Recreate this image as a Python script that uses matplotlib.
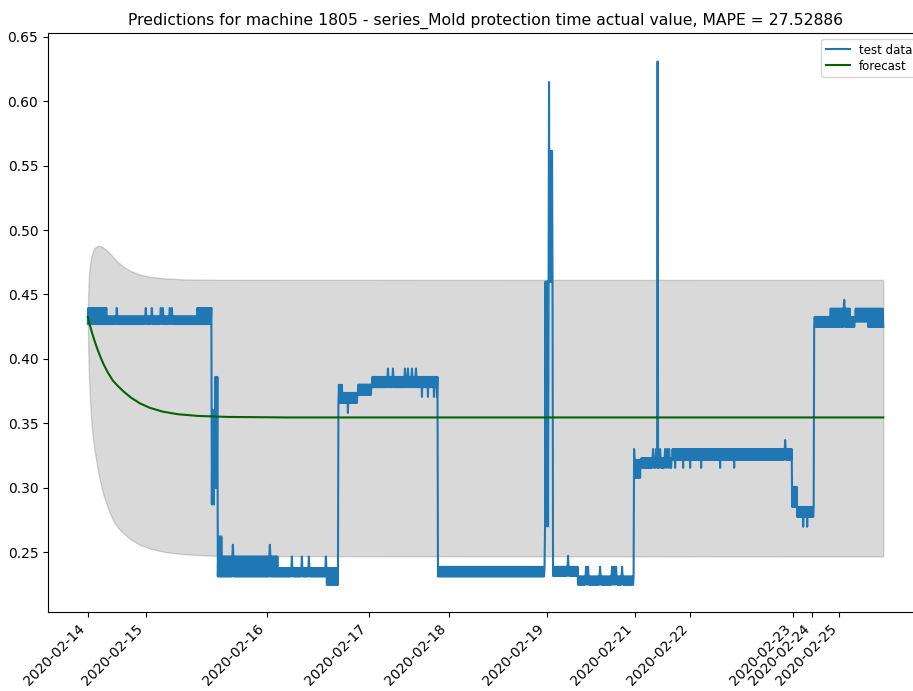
import numpy as np
import matplotlib
matplotlib.use("Agg")
import matplotlib.pyplot as plt

# x axis is the sample index of the test data; days start at these samples
day_labels = ['2020-02-14', '2020-02-15', '2020-02-16', '2020-02-17',
              '2020-02-18', '2020-02-19', '2020-02-21', '2020-02-22',
              '2020-02-23', '2020-02-24', '2020-02-25']
day_start = [0, 116, 358, 562, 722, 918, 1094, 1204, 1410, 1448, 1502]

# test data: the signal flickers between two levels inside each run
seg_edges = [0, 38, 218, 248, 254, 260, 268, 380, 476, 501, 510, 540, 568,
             658, 700, 914, 930, 980, 1092, 1106, 1168, 1408, 1418, 1452,
             1484, 1524, 1534, 1560, 1591]
seg_lo = [0.427, 0.427, 0.427, 0.287, 0.300, 0.231, 0.231, 0.231, 0.2246,
          0.3658, 0.3658, 0.372, 0.378, 0.378, 0.231, 0.270, 0.2315, 0.2246,
          0.3076, 0.3154, 0.3216, 0.285, 0.2773, 0.4248, 0.4248, 0.4248,
          0.429, 0.4248]
seg_hi = [0.4395, 0.433, 0.4395, 0.360, 0.386, 0.262, 0.2465, 0.2375,
          0.2375, 0.3798, 0.3736, 0.380, 0.386, 0.386, 0.2385, 0.460, 0.2385,
          0.231, 0.3216, 0.323, 0.330, 0.3006, 0.285, 0.4326, 0.439, 0.4326,
          0.439, 0.439]

# isolated spikes and dips
spike_idx = [58, 116, 128, 146, 150, 164, 168,
             290, 364, 408, 428, 442, 476,
             520, 600, 610, 634, 640, 648, 656, 668, 680, 692, 698,
             922, 924, 926, 928, 960,
             996, 1000, 1024, 1048, 1052, 1056, 1068,
             1092, 1130, 1136, 1139, 1144, 1154, 1158, 1162,
             1174, 1190, 1204, 1226, 1264, 1292, 1394,
             1430, 1438, 1512]
spike_val = [0.4395, 0.4395, 0.4395, 0.4395, 0.4395, 0.4395, 0.4395,
             0.2556, 0.2556, 0.2465, 0.2465, 0.2465, 0.2465,
             0.358, 0.3925, 0.3925, 0.3925, 0.3925, 0.3925, 0.3925,
             0.3705, 0.3705, 0.3705, 0.3705,
             0.615, 0.50, 0.5615, 0.5615, 0.247,
             0.2385, 0.2385, 0.2385, 0.2385, 0.2385, 0.2385, 0.2385,
             0.330, 0.330, 0.330, 0.631, 0.330, 0.330, 0.330, 0.330,
             0.3154, 0.3154, 0.3154, 0.3154, 0.3154, 0.3154, 0.337,
             0.2696, 0.2696, 0.4458]

# forecast
fc_idx = [0, 4, 8, 12, 16, 20, 26, 32, 40, 50, 60, 72, 86, 104, 124, 150,
          180, 220, 280, 400, 1590]
fc_val = [0.4326, 0.4265, 0.4210, 0.4159, 0.4112, 0.4068, 0.4008, 0.3955,
          0.3895, 0.3832, 0.3790, 0.3745, 0.3700, 0.3655, 0.3620, 0.3590,
          0.3570, 0.3557, 0.3549, 0.3545, 0.3545]

# confidence band
band_idx = [0, 1, 2, 4, 7, 10, 14, 19, 24, 30, 36, 44, 52, 60, 70, 84, 104,
            124, 154, 194, 264, 1590]
band_upper = [0.4326, 0.452, 0.463, 0.472, 0.479, 0.4835, 0.4862, 0.4876,
              0.4878, 0.4868, 0.4850, 0.4820, 0.4785, 0.4752, 0.4720,
              0.4685, 0.4655, 0.4638, 0.4625, 0.4617, 0.4614, 0.4613]
band_lower = [0.4326, 0.405, 0.390, 0.3708, 0.352, 0.3390, 0.3280, 0.3160,
              0.3060, 0.2960, 0.2890, 0.2802, 0.2735, 0.2690, 0.2650,
              0.2602, 0.2556, 0.2527, 0.2500, 0.2482, 0.2468, 0.2465]

# build test series
test = np.empty(seg_edges[-1])
for s, e, lo, hi in zip(seg_edges[:-1], seg_edges[1:], seg_lo, seg_hi):
    test[s:e] = lo
    test[s + 1:e:2] = hi
test[spike_idx] = spike_val

fig = plt.figure(figsize=(9.13, 6.91), dpi=100)
ax = fig.add_axes([48/913, 1 - 612/691, 875/913, 579/691])

ax.plot(np.arange(len(test)), test, color='tab:blue', label='test data')
ax.plot(fc_idx, fc_val, color='darkgreen', label='forecast')
ax.fill_between(band_idx, band_lower, band_upper, color='k', alpha=0.15)

ax.set_ylim(0.2034, 0.6531)
ax.set_xticks(day_start)
ax.set_xticklabels(day_labels, rotation=45, ha='right', fontsize=10)
ax.set_title('Predictions for machine 1805 - series_Mold protection time '
             'actual value, MAPE = 27.52886', fontsize=11.25)
ax.legend(loc='upper right', fontsize=8.5, labelspacing=0.25)

fig.savefig('out.png', dpi=100)
